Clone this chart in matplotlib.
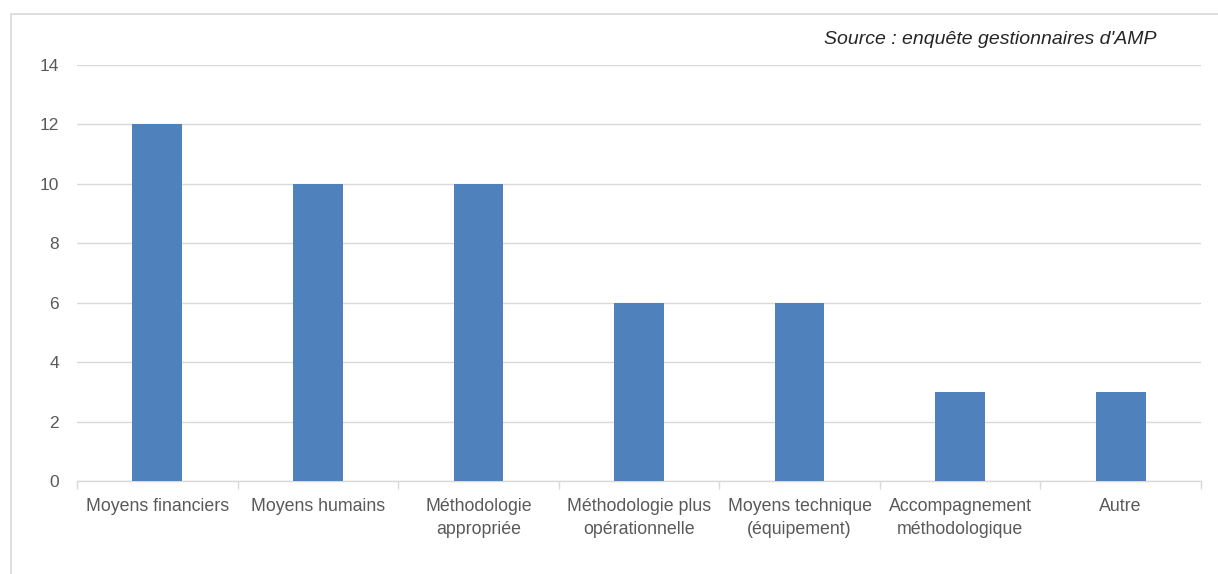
import numpy as np
import matplotlib.pyplot as plt
from matplotlib.patches import Rectangle

categories = ['Moyens financiers', 'Moyens humains', 'Méthodologie\nappropriée',
              'Méthodologie plus\nopérationnelle', 'Moyens technique\n(équipement)',
              'Accompagnement\nméthodologique', 'Autre']
values = [12, 10, 10, 6, 6, 3, 3]
yticks = [0, 2, 4, 6, 8, 10, 12, 14]

W, H = 1218, 574
fig = plt.figure(figsize=(W / 100, H / 100), dpi=100)
plt.rcParams['font.family'] = ['Liberation Sans', 'DejaVu Sans']

# chart-area border (light gray, cropped on right/bottom)
fig.patches.append(Rectangle((11 / W, -0.05), 1.1, 1 - 14 / H + 0.05,
                             transform=fig.transFigure, fill=False,
                             edgecolor='#d9d9d9', linewidth=1.2))

ax = fig.add_axes([77 / W, 1 - 481 / H, (1201 - 77) / W, (481 - 65) / H])
x = np.arange(len(categories))
ax.bar(x, values, width=0.31, color='#4f81bd', zorder=3)

ax.set_xlim(-0.5, len(categories) - 0.5)
ax.set_ylim(0, 14)
ax.set_yticks(yticks)
ax.set_yticklabels([str(v) for v in yticks], fontsize=12.5, color='#595959')
ax.grid(axis='y', color='#d9d9d9', linewidth=1, zorder=0)
ax.tick_params(axis='y', length=0, pad=13)

ax.set_xticks(x)
ax.set_xticklabels(categories, fontsize=12.8, color='#595959', linespacing=1.45)
ax.set_xticks(np.arange(len(categories) + 1) - 0.5, minor=True)
ax.tick_params(axis='x', which='major', length=0, pad=12)
ax.tick_params(axis='x', which='minor', length=6, color='#d9d9d9', width=1)

for side in ['top', 'right', 'left']:
    ax.spines[side].set_visible(False)
ax.spines['bottom'].set_color('#d9d9d9')
ax.spines['bottom'].set_linewidth(1)

fig.text(1157 / W, 1 - 39 / H, "Source : enquête gestionnaires d'AMP",
         ha='right', va='center', fontsize=14, style='italic', color='#262626')

fig.savefig('out.png', dpi=100)
